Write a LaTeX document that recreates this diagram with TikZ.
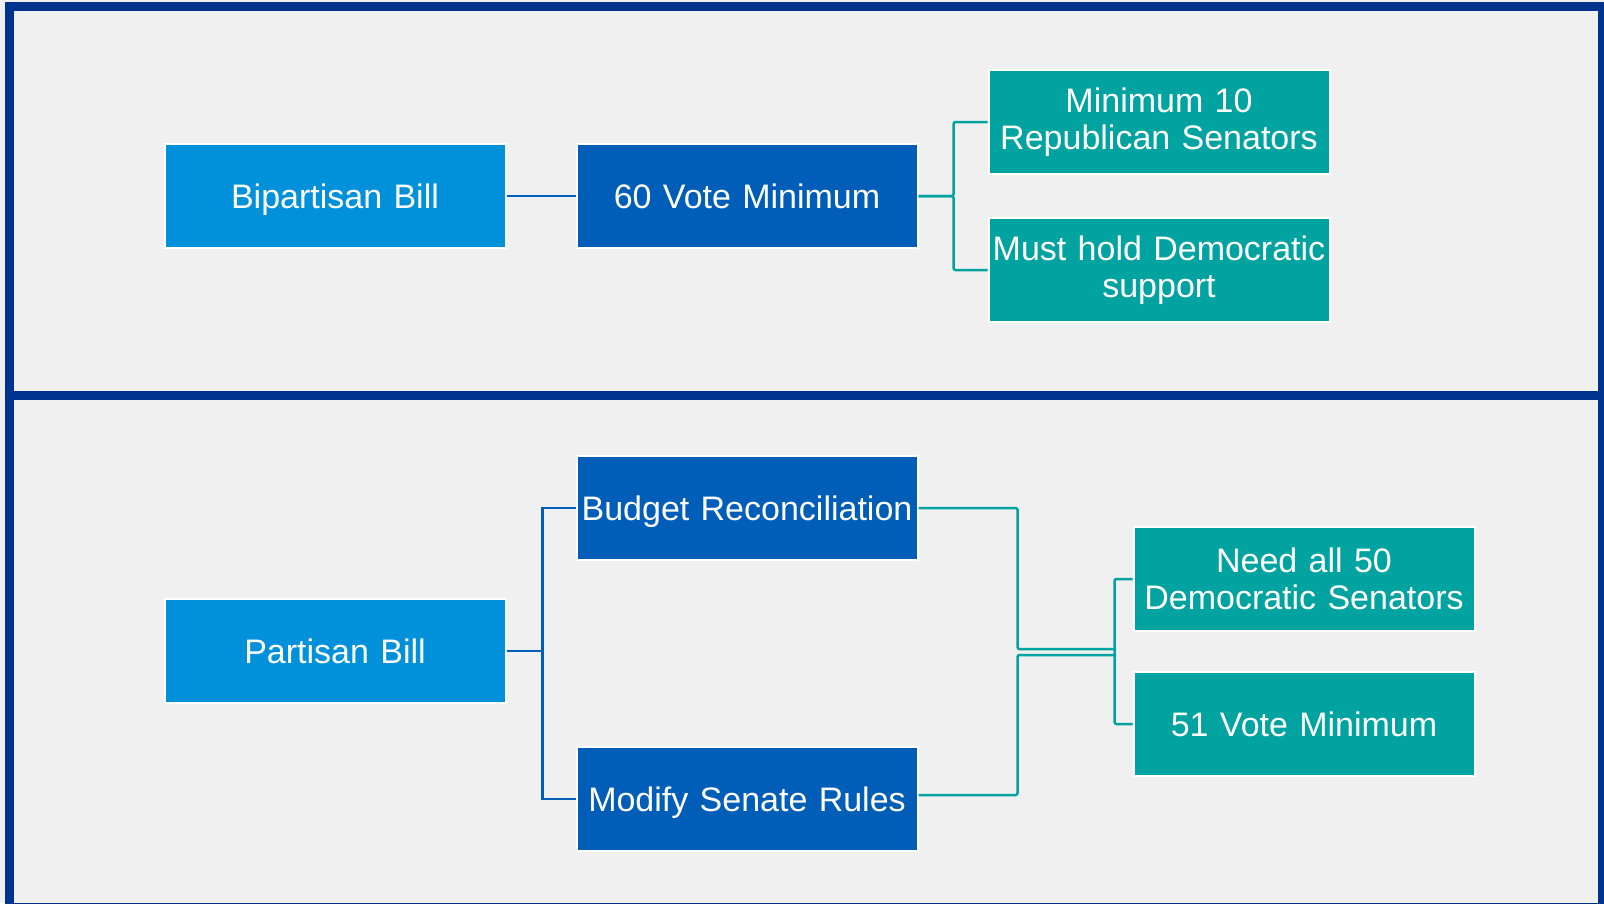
\documentclass[tikz,border=0pt]{standalone}
\usepackage{fontspec}
\setmainfont{Liberation Sans}
\usepackage{tikz}
\usetikzlibrary{calc}
\definecolor{framenavy}{RGB}{0,51,141}
\definecolor{panelgray}{RGB}{240,240,240}
\definecolor{billblue}{RGB}{0,145,218}
\definecolor{pathblue}{RGB}{0,94,184}
\definecolor{resultteal}{RGB}{0,163,159}
\begin{document}
\begin{tikzpicture}[x=1pt, y=-1pt,
    box/.style={minimum width=341pt, minimum height=104pt, text width=339pt, inner sep=0pt,
        align=center, draw=white, line width=2pt, text=white,
        font=\fontsize{34}{37}\selectfont},
    oneline/.style={text height=32pt, text depth=7.6pt},
    billbox/.style={box, oneline, fill=billblue},
    pathbox/.style={box, oneline, fill=pathblue},
    resultbox/.style={box, fill=resultteal},
    blueline/.style={draw=pathblue, line width=2.5pt},
    tealline/.style={draw=resultteal, line width=2.5pt, rounded corners=2pt}]
                        \useasboundingbox (0,0) rectangle (1604,903);
                        \clip (0,0) rectangle (1604,903);
                        \fill [panelgray] (0,0) rectangle (1604,903);
                        \foreach \ytop/\ybot in {6/395.5, 395.5/907}
                        {
                            \draw [framenavy, line width=9pt] (9,\ytop) rectangle (1602.5,\ybot);
                        }
                        \node [billbox] (bipartisan) at (335,196) {Bipartisan Bill};
                        \node [pathbox] (vote60) at (747,196) {60 Vote Minimum};
                        \node [resultbox] (rep10) at (1159,122) {Minimum 10\\Republican Senators};
                        \node [resultbox] (demsupport) at (1159,270) {Must hold Democratic\\support};
                        \node [billbox] (partisan) at (335,651) {Partisan Bill};
                        \node [pathbox] (budget) at (747,508) {Budget Reconciliation};
                        \node [pathbox] (senaterules) at (747,799) {Modify Senate Rules};
                        \node [resultbox] (dem50) at (1304,579) {Need all 50\\Democratic Senators};
                        \node [resultbox, oneline] (vote51) at (1304,724) {51 Vote Minimum};
                        \coordinate (joinup) at (1116,649);
                        \coordinate (joindown) at (1116,655);
                        \draw [blueline] (bipartisan.east) -- (vote60.west);
                        \foreach \target in {rep10, demsupport}
                        {
                            \draw [tealline] (vote60.east) -- ++(35,0) |- (\target.west);
                        }
                        \foreach \target in {budget, senaterules}
                        {
                            \draw [blueline] (partisan.east) -- ++(36,0) |- (\target.west);
                        }
                        \draw [tealline] (budget.east) -- ++(99,0) |- (joinup);
                        \draw [tealline] ([yshift=4pt]senaterules.east) -- ++(99,0) |- (joindown);
                        \draw [tealline] (dem50.west) -- ++(-18,0) |- (vote51.west);
                    \end{tikzpicture}
\end{document}
